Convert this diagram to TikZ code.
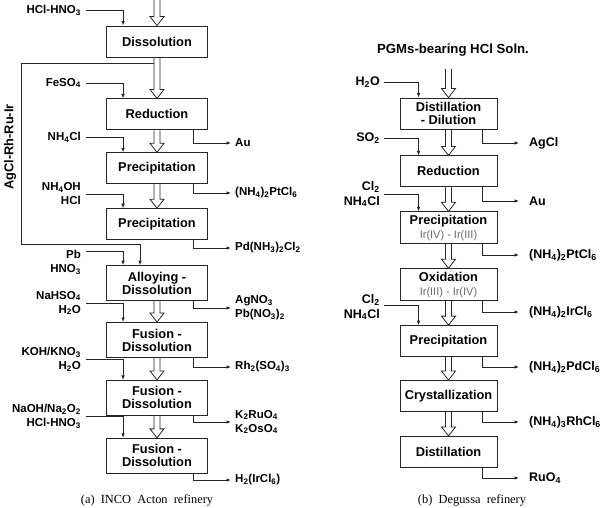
\documentclass[tikz,border=0pt]{standalone}
\usepackage{fontspec}
\setmainfont{Liberation Sans}
\newfontfamily\capfont{Liberation Serif}
\usetikzlibrary{arrows.meta, positioning}
\definecolor{cLine}{HTML}{262626}
\definecolor{cNote}{HTML}{6A6A6A}
\newcommand\irnote[1]{{\mdseries\fontsize{11}{12}\selectfont\color{cNote}#1}}
\newcommand\flowpipe[2]{%
  \draw[pp] ([xshift=-3pt]#1) -- ([xshift=-3pt,yshift=9pt]#2.north)
    -- ([xshift=-7pt,yshift=9pt]#2.north) -- (#2.north)
    -- ([xshift=7pt,yshift=9pt]#2.north) -- ([xshift=3pt,yshift=9pt]#2.north)
    -- ([xshift=3pt]#1);}

\begin{document}
\begin{tikzpicture}[x=1pt, y=-1pt,
      node distance=22pt,
      box/.style  = {draw=cLine, line width=0.9pt, minimum height=31pt, inner sep=1pt, align=center, font=\bfseries\fontsize{12.8}{13}\selectfont},
      boxA/.style = {box, minimum width=101pt},
      boxB/.style = {box, minimum width=97pt},
      inA/.style  = {anchor=east, align=right, inner sep=0pt, font=\bfseries\fontsize{11.5}{14}\selectfont},
      outA/.style = {inA, anchor=west, align=left},
      inB/.style  = {anchor=east, align=right, inner sep=0pt, font=\bfseries\fontsize{12.5}{15}\selectfont},
      outB/.style = {inB, anchor=west, align=left},
      ar/.style   = {-{Latex[length=4.5pt, width=3.6pt]}, draw=cLine, line width=0.8pt},
      pp/.style   = {draw=cLine, line width=0.8pt} ]
    \useasboundingbox (0,0) rectangle (606,508);

    % INCO chain
    \node[boxA] (dis) at (157,41.5) {Dissolution};
    \node[boxA, below=41pt of dis] (red) {Reduction};
    \node[boxA, below=of red] (pre1) {Precipitation};
    \node[boxA, below=24pt of pre1] (pre2) {Precipitation};
    \node[boxA, below=25pt of pre2, minimum height=35pt] (alloy) {Alloying -\\Dissolution};
    \node[boxA, below=21pt of alloy, minimum height=35pt] (fus1) {Fusion -\\Dissolution};
    \node[boxA, below=of fus1, minimum height=35pt] (fus2) {Fusion -\\Dissolution};
    \node[boxA, below=of fus2, minimum height=35pt] (fus3) {Fusion -\\Dissolution};

    \coordinate (srcA) at (157,0);
    \flowpipe{srcA}{dis}
    \flowpipe{dis.south}{red}
    \flowpipe{red.south}{pre1}
    \flowpipe{pre1.south}{pre2}
    \flowpipe{alloy.south}{fus1}
    \flowpipe{fus1.south}{fus2}
    \flowpipe{fus2.south}{fus3}

    \node[inA] (i1) at (81,10) {HCl-HNO\textsubscript{3}};
    \node[inA] (i2) at (81,83) {FeSO\textsubscript{4}};
    \node[inA] (i3) at (81,137) {NH\textsubscript{4}Cl};
    \node[inA] (i4) at (81,194) {NH\textsubscript{4}OH\\HCl};
    \node[inA] (i5) at (81,262) {Pb\\HNO\textsubscript{3}};
    \node[inA] (i6) at (81,303) {NaHSO\textsubscript{4}\\H\textsubscript{2}O};
    \node[inA] (i7) at (81,359) {KOH/KNO\textsubscript{3}\\H\textsubscript{2}O};
    \node[inA] (i8) at (81,416) {NaOH/Na\textsubscript{2}O\textsubscript{2}\\HCl-HNO\textsubscript{3}};
    \draw[ar] ([xshift=5pt]i1.east) -| ([xshift=17pt]dis.north west);
    \draw[ar] ([xshift=5pt]i2.east) -| ([xshift=17pt]red.north west);
    \draw[ar] ([xshift=5pt]i3.east) -| ([xshift=17pt]pre1.north west);
    \draw[ar] ([xshift=5pt]i4.east) -| ([xshift=17pt]pre2.north west);
    \draw[ar] ([xshift=5pt,yshift=-1.5pt]i5.north east) -| ([xshift=17pt]alloy.north west);
    \draw[ar] ([xshift=5pt]i6.east) -| ([xshift=17pt]fus1.north west);
    \draw[ar] ([xshift=5pt]i7.east) -| ([xshift=17pt]fus2.north west);
    \draw[ar] ([xshift=5pt]i8.east) -| ([xshift=17pt]fus3.north west);

    \node[outA] (o1) at (235,143) {Au};
    \node[outA] (o2) at (235,193) {(NH\textsubscript{4})\textsubscript{2}PtCl\textsubscript{6}};
    \node[outA] (o3) at (235,248) {Pd(NH\textsubscript{3})\textsubscript{2}Cl\textsubscript{2}};
    \node[outA] (o4) at (235,308) {AgNO\textsubscript{3}\\Pb(NO\textsubscript{3})\textsubscript{2}};
    \node[outA] (o5) at (235,367) {Rh\textsubscript{2}(SO\textsubscript{4})\textsubscript{3}};
    \node[outA] (o6) at (235,422) {K\textsubscript{2}RuO\textsubscript{4}\\K\textsubscript{2}OsO\textsubscript{4}};
    \node[outA] (o7) at (235,480) {H\textsubscript{2}(IrCl\textsubscript{6})};
    \draw[ar] ([xshift=-15pt]red.south east) |- ([xshift=-4pt]o1.west);
    \draw[ar] ([xshift=-15pt]pre1.south east) |- ([xshift=-4pt]o2.west);
    \draw[ar] ([xshift=-15pt]pre2.south east) |- ([xshift=-4pt]o3.west);
    \draw[ar] ([xshift=-15pt]alloy.south east) |- ([xshift=-4pt]o4.west);
    \draw[ar] ([xshift=-15pt]fus1.south east) |- ([xshift=-4pt]o5.west);
    \draw[ar] ([xshift=-15pt]fus2.south east) |- ([xshift=-4pt]o6.west);
    \draw[ar] ([xshift=-15pt]fus3.south east) |- ([xshift=-4pt]o7.west);

    % residue loop back to alloying
    \coordinate (lp) at (21,244);
    \coordinate (lpin) at ([xshift=34pt]alloy.north west);
    \draw[ar] ([xshift=-3pt,yshift=-6pt]dis.south) -| (lp) -| (lpin);
    \node[inA, anchor=center, rotate=90, font=\bfseries\fontsize{12.8}{14}\selectfont] (lpl) at (10,147) {AgCl-Rh-Ru-Ir};

    % Degussa chain
    \node[inB, anchor=center, font=\bfseries\fontsize{13.2}{15}\selectfont] (ttl) at (453,50) {PGMs-bearing HCl Soln.};
    \node[boxB] (ddl) at (448.5,113.5) {Distillation\\- Dilution};
    \node[boxB, below=26pt of ddl] (red2) {Reduction};
    \node[boxB, below=24pt of red2, minimum height=32pt] (pre3) {Precipitation\\[1pt]\irnote{Ir(IV) - Ir(III)}};
    \node[boxB, below=24pt of pre3, minimum height=32pt] (oxi) {Oxidation\\[1pt]\irnote{Ir(III) - Ir(IV)}};
    \node[boxB, below=24pt of oxi] (pre4) {Precipitation};
    \node[boxB, below=23pt of pre4] (cry) {Crystallization};
    \node[boxB, below=24pt of cry] (dst) {Distillation};

    \coordinate (srcB) at (448.5,69);
    \flowpipe{srcB}{ddl}
    \flowpipe{ddl.south}{red2}
    \flowpipe{red2.south}{pre3}
    \flowpipe{pre3.south}{oxi}
    \flowpipe{oxi.south}{pre4}
    \flowpipe{pre4.south}{cry}
    \flowpipe{cry.south}{dst}

    \node[inB] (j1) at (380,82) {H\textsubscript{2}O};
    \node[inB] (j2) at (380,138) {SO\textsubscript{2}};
    \node[inB] (j3) at (380,194) {Cl\textsubscript{2}\\NH\textsubscript{4}Cl};
    \node[inB] (j4) at (380,307) {Cl\textsubscript{2}\\NH\textsubscript{4}Cl};
    \draw[ar] ([xshift=4pt]j1.east) -| ([xshift=19pt]ddl.north west);
    \draw[ar] ([xshift=4pt]j2.east) -| ([xshift=19pt]red2.north west);
    \draw[ar] ([xshift=4pt]j3.east) -| ([xshift=19pt]pre3.north west);
    \draw[ar] ([xshift=4pt,yshift=2pt]j4.east) -| ([xshift=19pt]pre4.north west);

    \node[outB] (p1) at (529,143) {AgCl};
    \node[outB] (p2) at (529,201) {Au};
    \node[outB] (p3) at (529,255) {(NH\textsubscript{4})\textsubscript{2}PtCl\textsubscript{6}};
    \node[outB] (p4) at (529,312) {(NH\textsubscript{4})\textsubscript{2}IrCl\textsubscript{6}};
    \node[outB] (p5) at (529,367) {(NH\textsubscript{4})\textsubscript{2}PdCl\textsubscript{6}};
    \node[outB] (p6) at (529,422) {(NH\textsubscript{4})\textsubscript{3}RhCl\textsubscript{6}};
    \node[outB] (p7) at (529,478) {RuO\textsubscript{4}};
    \draw[ar] ([xshift=-15pt]ddl.south east) |- ([xshift=-10pt]p1.west);
    \draw[ar] ([xshift=-15pt]red2.south east) |- ([xshift=-10pt]p2.west);
    \draw[ar] ([xshift=-15pt]pre3.south east) |- ([xshift=-10pt]p3.west);
    \draw[ar] ([xshift=-15pt]oxi.south east) |- ([xshift=-10pt]p4.west);
    \draw[ar] ([xshift=-15pt]pre4.south east) |- ([xshift=-10pt]p5.west);
    \draw[ar] ([xshift=-15pt]cry.south east) |- ([xshift=-10pt]p6.west);
    \draw[ar] ([xshift=-15pt]dst.south east) |- ([xshift=-10pt]p7.west);

    \node[font=\capfont\fontsize{12.4}{14}\selectfont] (capa) at (147,500) {(a)\ \ INCO\ \ Acton\ \ refinery};
    \node[font=\capfont\fontsize{12.4}{14}\selectfont] (capb) at (472,500) {(b)\ \ Degussa\ \ refinery};
  \end{tikzpicture}
\end{document}
